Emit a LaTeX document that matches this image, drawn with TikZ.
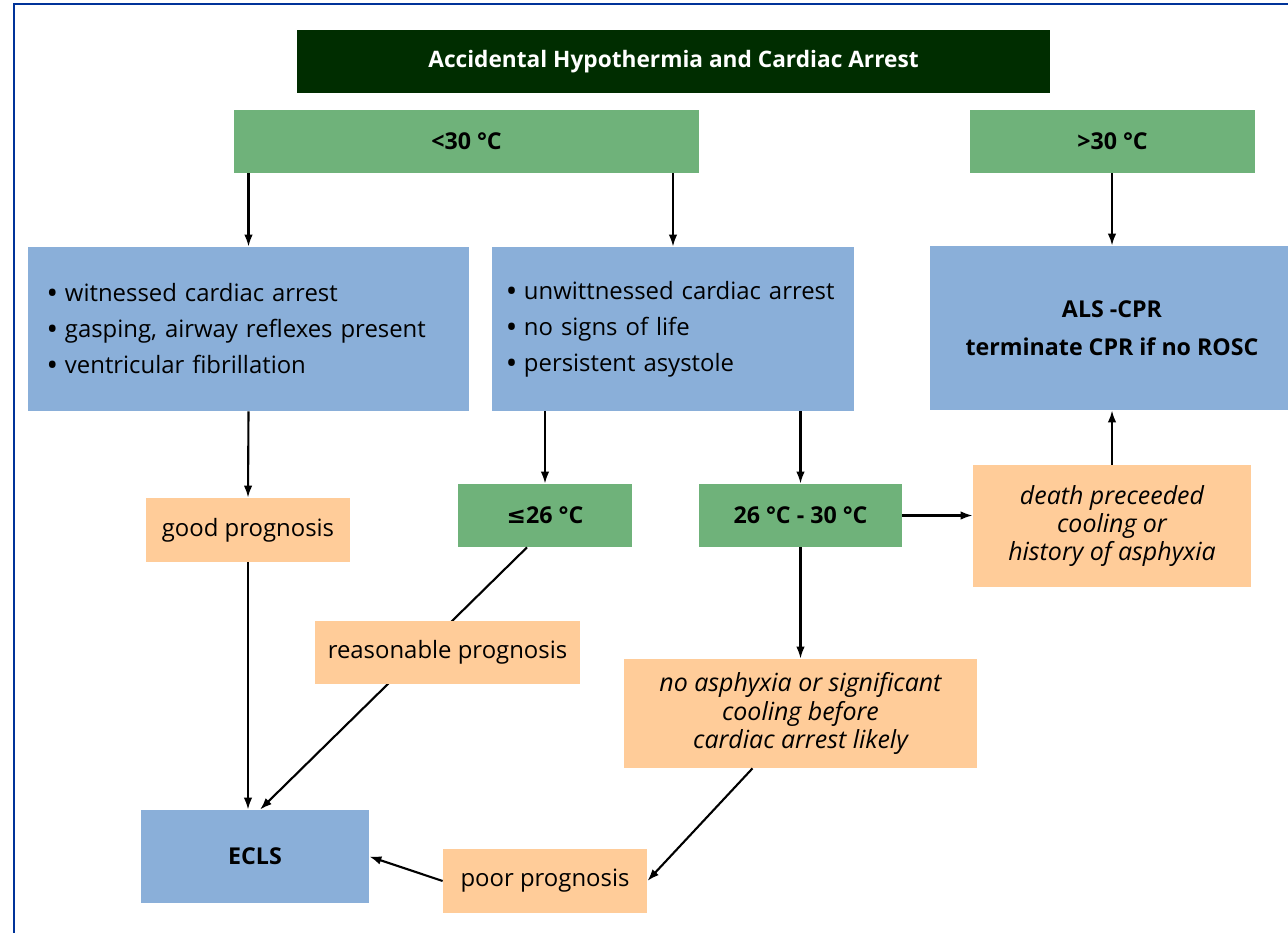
\documentclass[tikz,border=0pt]{standalone}
\usepackage{fontspec}
\setmainfont{Open Sans}
\newfontfamily\symfont{DejaVu Sans}
\usetikzlibrary{arrows.meta}

\definecolor{titlegreen}{RGB}{0,45,0}
\definecolor{tempgreen}{RGB}{111,178,122}
\definecolor{infoblue}{RGB}{138,175,217}
\definecolor{progorange}{RGB}{255,204,153}
\definecolor{framblue}{RGB}{0,51,153}

\newcommand{\bodyfont}{\fontsize{13.6}{20.5}\selectfont}
\newcommand{\boldfont}{\fontsize{13.2}{20.5}\selectfont\bfseries}
\newcommand{\itemdot}{{\bfseries\textbullet}\ }

\begin{document}
\begin{tikzpicture}[
    x=0.2mm, y=-0.2mm,
    >={Latex[length=2.4mm, width=1.7mm]},
    every node/.style={font=\bodyfont},
    titlebox/.style={
        minimum height=12.6mm, align=center,
        fill=titlegreen, text=white,
        font=\fontsize{12.9}{14}\selectfont\bfseries
    },
    tempbox/.style={
        minimum height=12.6mm, align=center,
        fill=tempgreen, font=\boldfont
    },
    infobox/.style={
        minimum height=32.8mm, fill=infoblue
    },
    progbox/.style={
        minimum height=12.8mm, align=center, fill=progorange
    },
    notebox/.style={
        progbox, font=\fontsize{14.2}{16}\selectfont\itshape
    },
    arr/.style={->, line width=1.2pt}
]

% Bildgroesse wie Vorlage, Rahmen links/oben
\useasboundingbox (0,0) rectangle (1288,932);
\clip (0,0) rectangle (1288,932);
\draw[framblue, line width=1.6pt] (14,950) -- (14,4) -- (1300,4);

% ----------------------------------------------------------
% Kopfzeile und Temperaturbereiche
% ----------------------------------------------------------
\node[titlebox, minimum width=150.6mm] (title) at (673.5,61.5) {Accidental Hypothermia and Cardiac Arrest};

\node[tempbox, minimum width=93mm] (lt30) at (466.5,141.5) {<30 °C};
\node[tempbox, minimum width=57mm] (gt30) at (1112.5,141.5) {>30 °C};

% ----------------------------------------------------------
% Befunde
% ----------------------------------------------------------
\node[infobox, text width=80.2mm, inner xsep=4mm, align=left] (wit) at (248.5,329)
    {\itemdot witnessed cardiac arrest\\
     \itemdot gasping, airway reflexes present\\
     \itemdot ventricular fibrillation};
\node[infobox, text width=66.4mm, inner xsep=3mm, align=left] (unw) at (673,329)
    {\itemdot unwittnessed cardiac arrest\\
     \itemdot no signs of life\\
     \itemdot persistent asystole};
\node[infobox, minimum width=72.8mm, align=center, font=\fontsize{13.2}{21.6}\selectfont\bfseries] (als) at (1112,328)
    {ALS -CPR\\terminate CPR if no ROSC};

% ----------------------------------------------------------
% Prognose und Kerntemperatur
% ----------------------------------------------------------
\node[progbox, minimum width=40.8mm] (good) at (248,530) {good prognosis};
\node[tempbox, minimum width=34.8mm] (le26) at (545,515.5) {{\symfont ≤}26 °C};
\node[tempbox, minimum width=40.6mm] (mid) at (800.5,515.5) {26 °C - 30 °C};
\node[notebox, minimum height=24.4mm, minimum width=55.6mm] (death) at (1112,526)
    {death preceeded\\cooling or\\history of asphyxia};
\node[notebox, minimum height=21.8mm, minimum width=70.6mm] (noasph) at (800.5,713.5)
    {no asphyxia or significant\\cooling before\\cardiac arrest likely};
\node[infobox, minimum height=18.6mm, minimum width=45.6mm, font=\boldfont] (ecls) at (255,856.5) {ECLS};
\node[progbox, minimum width=40.8mm] (poor) at (545,881) {poor prognosis};

% ----------------------------------------------------------
% Pfeile
% ----------------------------------------------------------
\draw[arr] (wit.north |- lt30.south) -- (wit.north);
\draw[arr] (unw.north |- lt30.south) -- (unw.north);
\draw[arr] (als.north |- gt30.south) -- (als.north);
\draw[arr] (wit.south) -- (good.north);
\draw[arr] (good.south) -- (good.south |- ecls.north);
\draw[arr] (le26.north |- unw.south) -- (le26.north);
\draw[arr] (mid.north |- unw.south) -- (mid.north);
\draw[arr] (mid.east) -- (death.west |- mid.east);
\draw[arr] (death.north) -- (als.south);
\draw[arr] (mid.south) -- (noasph.north);
\draw[arr] ([xshift=-9.6mm]noasph.south) -- (poor.east);
\draw[arr] (poor.west) -- (ecls.east);
\draw[arr] ([xshift=-3.6mm]le26.south) -- ([xshift=1mm]ecls.north);

% liegt ueber der Diagonale
\node[progbox, minimum height=12.6mm, minimum width=53mm] (reason) at (447.5,652.5) {reasonable prognosis};

\end{tikzpicture}
\end{document}
